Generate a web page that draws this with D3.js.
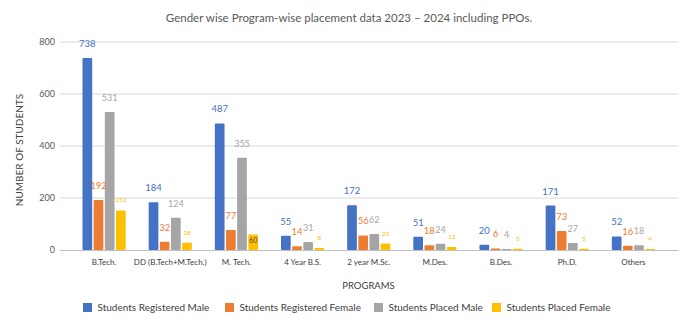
<!DOCTYPE html>
<html><head><meta charset="utf-8">
<script src="https://cdn.jsdelivr.net/npm/d3@7"></script>
<style>body{margin:0;background:#fff}svg{display:block;font-family:Lato,"Open Sans",sans-serif}</style>
</head><body><svg id="c" width="691" height="328"></svg>
<script>
const categories = ["B.Tech.","DD (B.Tech+M.Tech.)","M. Tech.","4 Year B.S.","2 year M.Sc.","M.Des.","B.Des.","Ph.D.","Others"];
const regMale   = [738,184,487,55,172,51,20,171,52];
const regFemale = [192,32,77,14,56,18,6,73,16];
const plcMale   = [531,124,355,31,62,24,4,27,18];
const plcFemale = [152,28,60,8,25,12,5,5,4];
const seriesNames = ["Students Registered Male","Students Registered Female","Students Placed Male","Students Placed Female"];
const yTicks = [0,200,400,600,800];
const colors = ["#4472C4","#ED7D31","#A5A5A5","#FFC000"];
const labelColors = ["#4472C4","#ED7D31","#A5A5A5","#FFC000"];
const labelSizes = [9.5,9.5,9,6.5];
const seriesData = [regMale,regFemale,plcMale,plcFemale];

const svg = d3.select("#c");
const x0 = d3.scaleBand().domain(categories).range([71,666.5]).padding(0);
const x1 = d3.scaleBand().domain(d3.range(4)).range([0,43.2]).paddingInner(0.13);
const y = d3.scaleLinear().domain([0,800]).range([250,42]);

svg.append("g").selectAll("line").data(yTicks.slice(1)).join("line")
  .attr("x1",60).attr("x2",678).attr("y1",d=>y(d)).attr("y2",d=>y(d))
  .attr("stroke","#D9D9D9").attr("stroke-width",1);
const yAxis = d3.axisLeft(y).tickValues(yTicks).tickSize(0).tickPadding(0);
const ya = svg.append("g").attr("transform","translate(55,0)").call(yAxis);
ya.select(".domain").remove();
ya.selectAll("text").attr("font-family","Lato").attr("font-size",9).attr("fill","#595959");

const groups = svg.append("g").selectAll("g").data(categories).join("g")
  .attr("transform",d=>`translate(${x0(d)+x0.bandwidth()/2-21.6},0)`);
groups.each(function(cat,ci){
  const g = d3.select(this);
  seriesData.forEach((arr,si)=>{
    const v = arr[ci];
    g.append("rect").attr("x",x1(si)).attr("width",x1.bandwidth())
      .attr("y",y(v)).attr("height",y(0)-y(v)).attr("fill",colors[si])
      .attr("rx",1);
  });
});
svg.append("line").attr("x1",60).attr("x2",678).attr("y1",250.5).attr("y2",250.5)
  .attr("stroke","#BFBFBF").attr("stroke-width",1);

groups.each(function(cat,ci){
  const g = d3.select(this);
  seriesData.forEach((arr,si)=>{
    const v = arr[ci];
    const cx = x1(si)+x1.bandwidth()/2;
    const inside = (si===3 && v===60);
    g.append("text").attr("x",cx)
      .attr("y", inside ? y(v)+9 : y(v)-(si===3?8:11))
      .attr("text-anchor","middle").attr("font-size",inside?7:labelSizes[si])
      .attr("fill",inside?"#404040":labelColors[si]).text(v);
  });
});

const xa = svg.append("g").attr("transform","translate(0,250)")
  .call(d3.axisBottom(x0).tickSize(0).tickPadding(9));
xa.select(".domain").remove();
xa.selectAll("text").attr("font-family","Lato").attr("font-size",8).attr("fill","#404040");

svg.append("text").attr("x",349).attr("y",22).attr("text-anchor","middle")
  .attr("font-size",11.5).attr("fill","#595959")
  .text("Gender wise Program-wise placement data 2023 \u2013 2024 including PPOs.");
svg.append("text").attr("transform","translate(23,150) rotate(-90)").attr("text-anchor","middle")
  .attr("font-size",10).attr("fill","#404040").text("NUMBER OF STUDENTS");
svg.append("text").attr("x",368.5).attr("y",289).attr("text-anchor","middle")
  .attr("font-size",9.5).attr("fill","#404040").text("PROGRAMS");

const legX = [83,225,374,492];
const leg = svg.append("g").selectAll("g").data(seriesNames).join("g")
  .attr("transform",(d,i)=>`translate(${legX[i]},303)`);
leg.append("rect").attr("width",9).attr("height",9).attr("fill",(d,i)=>colors[i]);
leg.append("text").attr("x",14.5).attr("y",8).attr("font-size",10).attr("fill","#404040").text(d=>d);
</script></body></html>
